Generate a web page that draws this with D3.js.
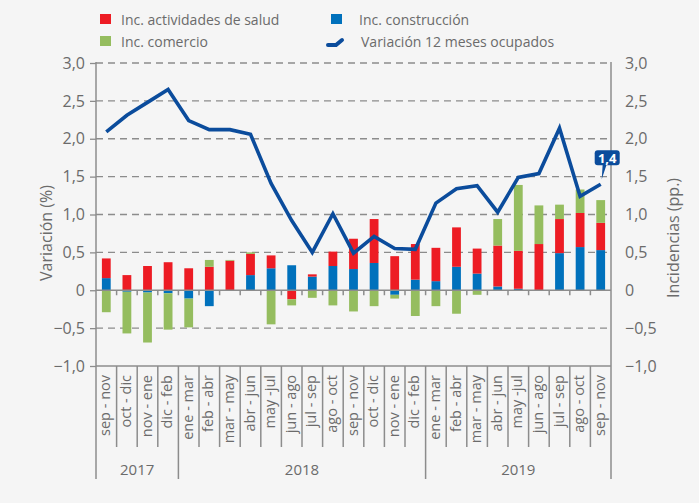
<!DOCTYPE html>
<meta charset="utf-8">

<script src="https://d3js.org/d3.v7.min.js"></script>

<style type="text/css">
  body { margin: 0; background: #f5f5f5; }
  svg { display: block; background: #f5f5f5; }
  text { font-family: "Open Sans", sans-serif; fill: #6b6b6b; }
  .grid line { stroke: #8c8c8c; stroke-dasharray: 7 5; stroke-width: 1.3; }
  .axisline { stroke: #8c8c8c; stroke-width: 1.5; }
</style>

<body>
</body>

<script>

  // periods (rolling quarters)
  let periods = [
    "sep - nov", "oct - dic", "nov - ene", "dic - feb",
    "ene - mar", "feb - abr", "mar - may", "abr - jun", "may -jul", "jun - ago",
    "jul - sep", "ago - oct", "sep - nov", "oct - dic", "nov - ene", "dic - feb",
    "ene - mar", "feb - abr", "mar - may", "abr - jun", "may -jul", "jun - ago",
    "jul - sep", "ago - oct", "sep - nov"
  ];

  let years = [
    { year: "2017", from: 0, to: 4 },
    { year: "2018", from: 4, to: 16 },
    { year: "2019", from: 16, to: 25 }
  ];

  let construccion = [0.16, -0.02, -0.03, -0.04, -0.11, -0.21, 0, 0.20, 0.29, 0.33, 0.18, 0.32, 0.28,
    0.36, -0.06, 0.14, 0.12, 0.31, 0.22, 0.05, 0.02, 0, 0.49, 0.57, 0.53];
  let salud = [0.26, 0.20, 0.32, 0.37, 0.29, 0.31, 0.39, 0.28, 0.17, -0.12, 0.03, 0.19, 0.40,
    0.58, 0.45, 0.47, 0.44, 0.52, 0.33, 0.54, 0.50, 0.61, 0.45, 0.45, 0.36];
  let comercio = [-0.29, -0.55, -0.66, -0.48, -0.38, 0.09, 0.01, 0.02, -0.45, -0.08, -0.10, -0.20, -0.28,
    -0.21, -0.05, -0.34, -0.21, -0.31, -0.06, 0.35, 0.87, 0.51, 0.19, 0.31, 0.30];
  let ocupados = [2.09, 2.31, 2.48, 2.65, 2.24, 2.12, 2.12, 2.06, 1.41, 0.92, 0.50, 1.01, 0.49,
    0.71, 0.55, 0.54, 1.15, 1.34, 1.38, 1.03, 1.49, 1.54, 2.14, 1.24, 1.40];

  let yTicks = [-1, -0.5, 0, 0.5, 1, 1.5, 2, 2.5, 3];

  let colors = { construccion: "#0071bc", salud: "#ed1c24", comercio: "#95bd5f" };
  let lineColor = "#0b4c9c";

  let width = 699, height = 503;
  let plot = { left: 96, right: 611, top: 63, bottom: 366 };

  let svg = d3.select("body").append("svg")
    .attr("width", width)
    .attr("height", height);

  let xScale = d3.scaleBand()
    .domain(d3.range(periods.length))
    .range([plot.left, plot.right])
    .padding(0);

  let yScale = d3.scaleLinear()
    .domain([-1, 3])
    .range([plot.bottom, plot.top]);

  let fmt = d => d === 0 ? "0" : d3.format(".1f")(d).replace(".", ",");

  // dashed gridlines
  svg.append("g").attr("class", "grid")
    .selectAll("line")
    .data(yTicks.filter(d => d !== 0 && d !== -1))
    .enter().append("line")
    .attr("x1", plot.left).attr("x2", plot.right)
    .attr("y1", d => yScale(d)).attr("y2", d => yScale(d));

  // left axis
  let yAxisL = d3.axisLeft(yScale).tickValues(yTicks).tickFormat(fmt).tickSize(6).tickPadding(5);
  let gL = svg.append("g")
    .attr("transform", `translate(${plot.left},0)`)
    .call(yAxisL);
  gL.select(".domain").remove();
  gL.selectAll(".tick line").attr("stroke", "#8c8c8c").attr("stroke-width", 1.3);
  gL.selectAll(".tick text").attr("font-size", 16).attr("font-family", "Open Sans").attr("fill", "#6b6b6b");

  // right axis
  let yAxisR = d3.axisRight(yScale).tickValues(yTicks).tickFormat(fmt).tickSize(0).tickPadding(14);
  let gR = svg.append("g")
    .attr("transform", `translate(${plot.right},0)`)
    .call(yAxisR);
  gR.select(".domain").remove();
  gR.selectAll(".tick text").attr("font-size", 16).attr("font-family", "Open Sans").attr("fill", "#6b6b6b");

  // stacked bars
  let rows = periods.map((p, i) => ({
    i: i,
    construccion: construccion[i],
    salud: salud[i],
    comercio: comercio[i]
  }));

  let stack = d3.stack()
    .keys(["construccion", "salud", "comercio"])
    .offset(d3.stackOffsetDiverging);

  let series = stack(rows);
  let barW = 8.8;

  svg.append("g").selectAll("g")
    .data(series).enter().append("g")
    .attr("fill", d => colors[d.key])
    .selectAll("rect")
    .data(d => d).enter().append("rect")
    .attr("x", d => xScale(d.data.i) + xScale.bandwidth() / 2 - barW / 2)
    .attr("width", barW)
    .attr("y", d => yScale(Math.max(d[0], d[1])))
    .attr("height", d => Math.abs(yScale(d[0]) - yScale(d[1])));

  // zero line with small ticks
  svg.append("line").attr("class", "axisline")
    .attr("x1", plot.left).attr("x2", plot.right)
    .attr("y1", yScale(0)).attr("y2", yScale(0));
  svg.append("g").selectAll("line")
    .data(d3.range(1, periods.length))
    .enter().append("line").attr("class", "axisline")
    .attr("x1", d => xScale(d)).attr("x2", d => xScale(d))
    .attr("y1", yScale(0)).attr("y2", yScale(0) + 5);

  // left + right vertical axis lines
  svg.append("line").attr("class", "axisline")
    .attr("x1", plot.left).attr("x2", plot.left)
    .attr("y1", plot.top - 1).attr("y2", 479);
  svg.append("line").attr("class", "axisline")
    .attr("x1", plot.right).attr("x2", plot.right)
    .attr("y1", plot.top - 1).attr("y2", 479);

  // bottom axis
  svg.append("line").attr("class", "axisline")
    .attr("x1", plot.left).attr("x2", plot.right)
    .attr("y1", plot.bottom).attr("y2", plot.bottom);

  let yearEdges = years.map(d => d.from);
  svg.append("g").selectAll("line")
    .data(d3.range(1, periods.length))
    .enter().append("line").attr("class", "axisline")
    .attr("x1", d => xScale(d)).attr("x2", d => xScale(d))
    .attr("y1", plot.bottom).attr("y2", d => yearEdges.includes(d) ? 479 : 447);

  svg.append("g").selectAll("text")
    .data(periods).enter().append("text")
    .attr("transform", (d, i) => `translate(${xScale(i) + xScale.bandwidth() / 2 + 4},${plot.bottom + 9}) rotate(-90)`)
    .attr("text-anchor", "end")
    .attr("font-size", 14.5)
    .text(d => d);

  svg.append("g").selectAll("text")
    .data(years).enter().append("text")
    .attr("x", d => (xScale(d.from) + (d.to < periods.length ? xScale(d.to) : plot.right)) / 2)
    .attr("y", 475)
    .attr("text-anchor", "middle")
    .attr("font-size", 15)
    .text(d => d.year);

  // line
  let line = d3.line()
    .x((d, i) => xScale(i) + xScale.bandwidth() / 2)
    .y(d => yScale(d));

  svg.append("path")
    .datum(ocupados)
    .attr("fill", "none")
    .attr("stroke", lineColor)
    .attr("stroke-width", 3.6)
    .attr("stroke-linejoin", "miter")
    .attr("d", line);

  // last value callout
  let last = ocupados.length - 1;
  let lx = xScale(last) + xScale.bandwidth() / 2;
  let ly = yScale(ocupados[last]);
  let callout = svg.append("g");
  callout.append("path")
    .attr("d", `M${lx + 1},${ly - 5} L${lx + 2},${ly - 20} L${lx + 6},${ly - 20} Z`)
    .attr("fill", lineColor);
  callout.append("rect")
    .attr("x", lx - 6).attr("y", ly - 34)
    .attr("width", 25).attr("height", 15)
    .attr("rx", 3)
    .attr("fill", lineColor);
  callout.append("text")
    .attr("x", lx + 6.5).attr("y", ly - 21.5)
    .attr("text-anchor", "middle")
    .attr("font-size", 13)
    .attr("font-weight", "bold")
    .style("fill", "#fff")
    .text(fmt(ocupados[last]));

  // axis titles
  svg.append("text")
    .attr("transform", `translate(52,233) rotate(-90)`)
    .attr("text-anchor", "middle")
    .attr("font-size", 16)
    .text("Variación (%)");
  svg.append("text")
    .attr("transform", `translate(679,238) rotate(-90)`)
    .attr("text-anchor", "middle")
    .attr("font-size", 16)
    .text("Incidencias (pp.)");

  // legend
  let legendItems = [
    { label: "Inc. actividades de salud", color: colors.salud, x: 100, y: 14 },
    { label: "Inc. construcción", color: colors.construccion, x: 331, y: 14 },
    { label: "Inc. comercio", color: colors.comercio, x: 100, y: 36 }
  ];
  let legend = svg.append("g");
  legend.selectAll("rect")
    .data(legendItems).enter().append("rect")
    .attr("x", d => d.x).attr("y", d => d.y)
    .attr("width", 11).attr("height", 10)
    .attr("fill", d => d.color);
  legend.selectAll("text")
    .data(legendItems).enter().append("text")
    .attr("x", d => d.x + (d.x > 200 ? 28 : 21))
    .attr("y", d => d.y + 11)
    .attr("font-size", 14)
    .text(d => d.label);

  legend.append("path")
    .attr("d", "M328,45 L336,45 L342,40")
    .attr("fill", "none")
    .attr("stroke", lineColor)
    .attr("stroke-width", 4)
    .attr("stroke-linecap", "round");
  legend.append("text")
    .attr("x", 361).attr("y", 47)
    .attr("font-size", 14)
    .text("Variación 12 meses ocupados");

</script>
